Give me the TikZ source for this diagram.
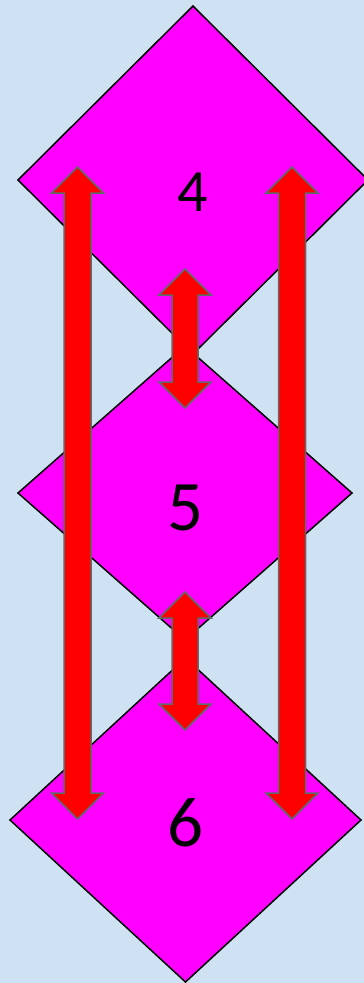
\documentclass[tikz,border=0pt]{standalone}
\usepackage{fontspec}
\setmainfont{Carlito}
\usetikzlibrary{shapes.geometric,calc}
\definecolor{paleblue}{HTML}{CFE2F3}
\definecolor{hotpink}{HTML}{FF00FF}
\definecolor{edgegray}{HTML}{5F6B6B}
\tikzset{level/.style={diamond,draw=black,fill=hotpink,line width=1.5pt,inner sep=0pt,outer sep=0pt},
digit/.style={inner sep=0pt,text=black},
bigarrow/.style={fill=red,draw=edgegray,line width=1.5pt,line join=miter}}
% vertical two-headed arrow from #1 (top tip) to #2 (bottom tip); #3 head half width, #4 shaft half width
\newcommand{\updown}[4]{%
\draw[bigarrow] (#1) -- ($(#1)+(#3,26)$) -- ($(#1)+(#4,26)$) -- ($(#2)+(#4,-26)$) -- ($(#2)+(#3,-26)$) -- (#2)
-- ($(#2)+(-#3,-26)$) -- ($(#2)+(-#4,-26)$) -- ($(#1)+(-#4,26)$) -- ($(#1)+(-#3,26)$) -- cycle;}

\begin{document}
\begin{tikzpicture}[x=1pt,y=-1pt]
\useasboundingbox (0,0) rectangle (364,983);
\fill[paleblue] (0,0) rectangle (364,983);
\begin{scope}
\clip (0,0) rectangle (364,983);
\node[level,minimum width=350pt,minimum height=348pt] (d4) at (193,180) {};
\node[level,minimum width=334pt,minimum height=294pt] (d5) at (185,493) {};
\node[level,minimum width=351pt,minimum height=324pt] (d6) at (185.5,820) {};
\end{scope}
\node[digit,font=\fontsize{60}{60}\selectfont] (t4) at (193,192) {4};
\node[digit,font=\fontsize{71}{71}\selectfont] (t5) at (185,508) {5};
\node[digit,font=\fontsize{71}{71}\selectfont] (t6) at (185,823) {6};
\coordinate (la) at (77.5,167);
\coordinate (lb) at (77.5,819);
\coordinate (ra) at (292,167);
\coordinate (rb) at (292,819);
\coordinate (ua) at (185,269);
\coordinate (ub) at (185,408);
\coordinate (wa) at (185,592);
\coordinate (wb) at (185,730);
\updown{la}{lb}{26}{13.5}
\updown{ra}{rb}{26}{13.5}
\updown{ua}{ub}{26}{13}
\updown{wa}{wb}{26}{13}
\end{tikzpicture}
\end{document}
